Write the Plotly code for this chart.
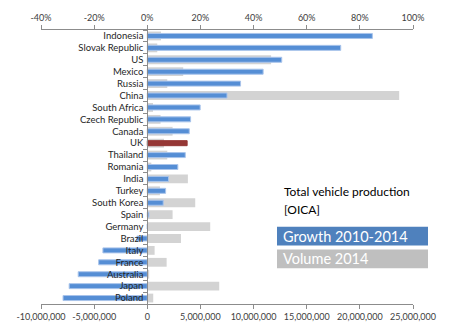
import plotly.graph_objects as go

countries = ["Indonesia", "Slovak Republic", "US", "Mexico", "Russia", "China",
             "South Africa", "Czech Republic", "Canada", "UK", "Thailand", "Romania",
             "India", "Turkey", "South Korea", "Spain", "Germany", "Brazil", "Italy",
             "France", "Australia", "Japan", "Poland"]
growth_pct = [84.7, 72.8, 50.6, 43.6, 35.1, 30.0, 19.9, 16.3, 15.8, 15.0, 14.3, 11.5,
              8.0, 6.9, 6.0, 0.6, 0.0, -3.9, -16.7, -18.3, -26.0, -29.4, -31.7]
volume_2014 = [1.29e6, 0.94e6, 11.65e6, 3.38e6, 1.88e6, 23.7e6, 0.54e6, 1.25e6, 2.38e6,
               1.57e6, 1.88e6, 0.38e6, 3.82e6, 1.19e6, 4.51e6, 2.38e6, 5.92e6, 3.17e6,
               0.69e6, 1.82e6, 0.18e6, 6.77e6, 0.56e6]
pct_ticks = [-40, -20, 0, 20, 40, 60, 80, 100]
vol_ticks = [-10e6, -5e6, 0, 5e6, 10e6, 15e6, 20e6, 25e6]

BLUE = "#558ED5"
GRAY = "#D3D3D3"
RED = "#953735"
AX = "#8C8C8C"
TXT = "#404040"
FONT = "Lato"

blue_colors = [RED if c == "UK" else BLUE for c in countries]
blue_lines = ["#953735" if c == "UK" else "#A9C4EB" for c in countries]

fig = go.Figure()
fig.add_trace(go.Bar(
    y=countries, x=volume_2014, orientation="h", xaxis="x", yaxis="y",
    width=0.74, marker=dict(color=GRAY, line=dict(width=0)), name="Volume 2014",
    showlegend=False,
))
fig.add_trace(go.Bar(
    y=countries, x=growth_pct, orientation="h", xaxis="x2", yaxis="y",
    width=0.42, marker=dict(color=blue_colors, line=dict(color=blue_lines, width=1)),
    name="Growth 2010-2014", showlegend=False,
))

fig.update_layout(
    width=450, height=334,
    margin=dict(l=41, r=37, t=20, b=23),
    paper_bgcolor="white", plot_bgcolor="white",
    barmode="overlay",
    font=dict(family=FONT, color=TXT, size=9),
    xaxis=dict(range=[vol_ticks[0], vol_ticks[-1]], tickvals=vol_ticks,
               ticktext=[f"{v:,.0f}" for v in vol_ticks],
               showgrid=False, zeroline=False, showline=True, linecolor=AX,
               ticks="outside", ticklen=4, tickcolor=AX,
               tickfont=dict(size=9, color=TXT), side="bottom"),
    xaxis2=dict(range=[pct_ticks[0], pct_ticks[-1]], tickvals=pct_ticks,
                ticktext=[f"{v}%" for v in pct_ticks], overlaying="x", side="top",
                showgrid=False, zeroline=False, showline=True, linecolor=AX,
                ticks="outside", ticklen=4, tickcolor=AX,
                tickfont=dict(size=9, color=TXT), anchor="y"),
    yaxis=dict(type="category", categoryorder="array", categoryarray=countries,
               autorange="reversed", anchor="free", position=10 / 35,
               showgrid=False, zeroline=False, showline=True, linecolor=AX,
               ticks="outside", ticklen=4, tickcolor=AX, tickson="boundaries",
               ticklabelstandoff=2,
               tickfont=dict(size=9.5, color="#262626"), layer="above traces"),
)

fig.add_shape(type="rect", xref="paper", yref="paper",
              x0=(277 - 41) / 372, x1=(428 - 41) / 372,
              y0=(311 - 249) / 291, y1=(311 - 229) / 291,
              fillcolor="#4F81BD", line=dict(width=0))
fig.add_shape(type="rect", xref="paper", yref="paper",
              x0=(277 - 41) / 372, x1=(428 - 41) / 372,
              y0=(311 - 273) / 291, y1=(311 - 253) / 291,
              fillcolor="#BFBFBF", line=dict(width=0))
fig.add_annotation(xref="paper", yref="paper", x=(281 - 41) / 372, y=(311 - 239) / 291,
                   text="Growth 2010-2014", showarrow=False, xanchor="left", yanchor="middle",
                   font=dict(family=FONT, size=14.5, color="white"))
fig.add_annotation(xref="paper", yref="paper", x=(281 - 41) / 372, y=(311 - 263) / 291,
                   text="Volume 2014", showarrow=False, xanchor="left", yanchor="middle",
                   font=dict(family=FONT, size=14.5, color="white"))
fig.add_annotation(xref="paper", yref="paper", x=(282 - 41) / 372, y=(311 - 192) / 291,
                   text="Total vehicle production", showarrow=False, xanchor="left",
                   yanchor="middle", font=dict(family=FONT, size=12, color="#000000"))
fig.add_annotation(xref="paper", yref="paper", x=(282 - 41) / 372, y=(311 - 211) / 291,
                   text="[OICA]", showarrow=False, xanchor="left",
                   yanchor="middle", font=dict(family=FONT, size=12, color="#000000"))

fig.write_html("out.html")
